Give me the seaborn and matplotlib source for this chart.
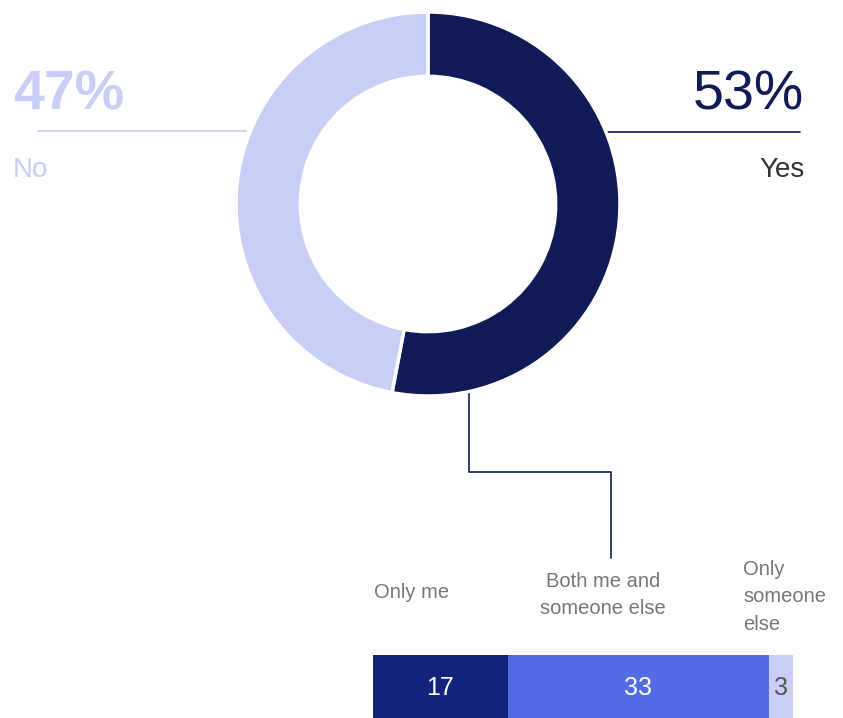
import numpy as np
import matplotlib
matplotlib.use("Agg")
import matplotlib.pyplot as plt
import seaborn as sns

# donut data
answers = ["Yes", "No"]
answer_pct = [53, 47]
answer_colors = ["#0f1a56", "#c8cef6"]

# breakdown of "Yes"
who = ["Only me", "Both me and\nsomeone else", "Only\nsomeone\nelse"]
who_vals = [17, 33, 3]
who_colors = ["#13237b", "#536ce4", "#c8cef6"]

sns.set_theme(style="white")
plt.rcParams["font.family"] = ["Liberation Sans", "DejaVu Sans"]

W, H = 843, 718
fig = plt.figure(figsize=(W / 100, H / 100), dpi=100)

# overlay axes in pixel coords for text and connector lines
ov = fig.add_axes([0, 0, 1, 1])
ov.set_xlim(0, W)
ov.set_ylim(H, 0)
ov.axis("off")
ov.patch.set_alpha(0)

# donut: center (428, 204), outer radius 192 px
cx, cy, r = 428, 204, 192
half = 1.25 * r
dax = fig.add_axes([(cx - half) / W, (H - cy - half) / H, 2 * half / W, 2 * half / H])
dax.pie(answer_pct, colors=answer_colors, startangle=90, counterclock=False,
        wedgeprops=dict(width=0.335, edgecolor="white", linewidth=2.5))
dax.set_xlim(-1.25, 1.25)
dax.set_ylim(-1.25, 1.25)

# connector lines
ov.plot([606, 800], [132, 132], color="#0f1a56", lw=1.2)
ov.plot([38, 246], [131, 131], color="#c8cef6", lw=1.2)
ov.plot([469, 469, 611, 611], [390, 472, 472, 558], color="#0f1a56", lw=1.2)

# big labels
ov.text(13, 110, f"{answer_pct[1]}%", fontsize=40, fontweight="bold", color=answer_colors[1],
        ha="left", va="baseline")
ov.text(13, 177, answers[1], fontsize=20, color=answer_colors[1], ha="left", va="baseline")
ov.text(804, 110, f"{answer_pct[0]}%", fontsize=40, color=answer_colors[0], ha="right", va="baseline")
ov.text(805, 177, answers[0], fontsize=20, color="#333333", ha="right", va="baseline")

# stacked bar: x 373..793 px, y 655..718 px
bx0, bx1, by0, by1 = 373, 793, 655, 719
bax = fig.add_axes([bx0 / W, (H - by1) / H, (bx1 - bx0) / W, (by1 - by0) / H])
cum = np.cumsum(who_vals)
for i in range(len(who_vals) - 1, -1, -1):
    sns.barplot(x=[cum[i]], y=["yes"], orient="h", color=who_colors[i],
                saturation=1, width=1, linewidth=0, ax=bax)
bax.set_xlim(0, cum[-1])
bax.set_ylim(0.5, -0.5)
bax.axis("off")

starts = cum - np.array(who_vals)
for i, v in enumerate(who_vals):
    mid = starts[i] + v / 2
    col = "white" if i < 2 else "#555555"
    bax.text(mid, 0.02, str(v), ha="center", va="center", fontsize=18, color=col)

# segment labels above the bar
ov.text(412, 592, who[0], fontsize=14.5, color="#777777", ha="center", va="center")
ov.text(603, 595, who[1], fontsize=14.5, color="#777777", ha="center", va="center", linespacing=1.55)
ov.text(743, 597, who[2], fontsize=14.5, color="#777777", ha="left", va="center", linespacing=1.55)

fig.savefig("out.png", dpi=100)
